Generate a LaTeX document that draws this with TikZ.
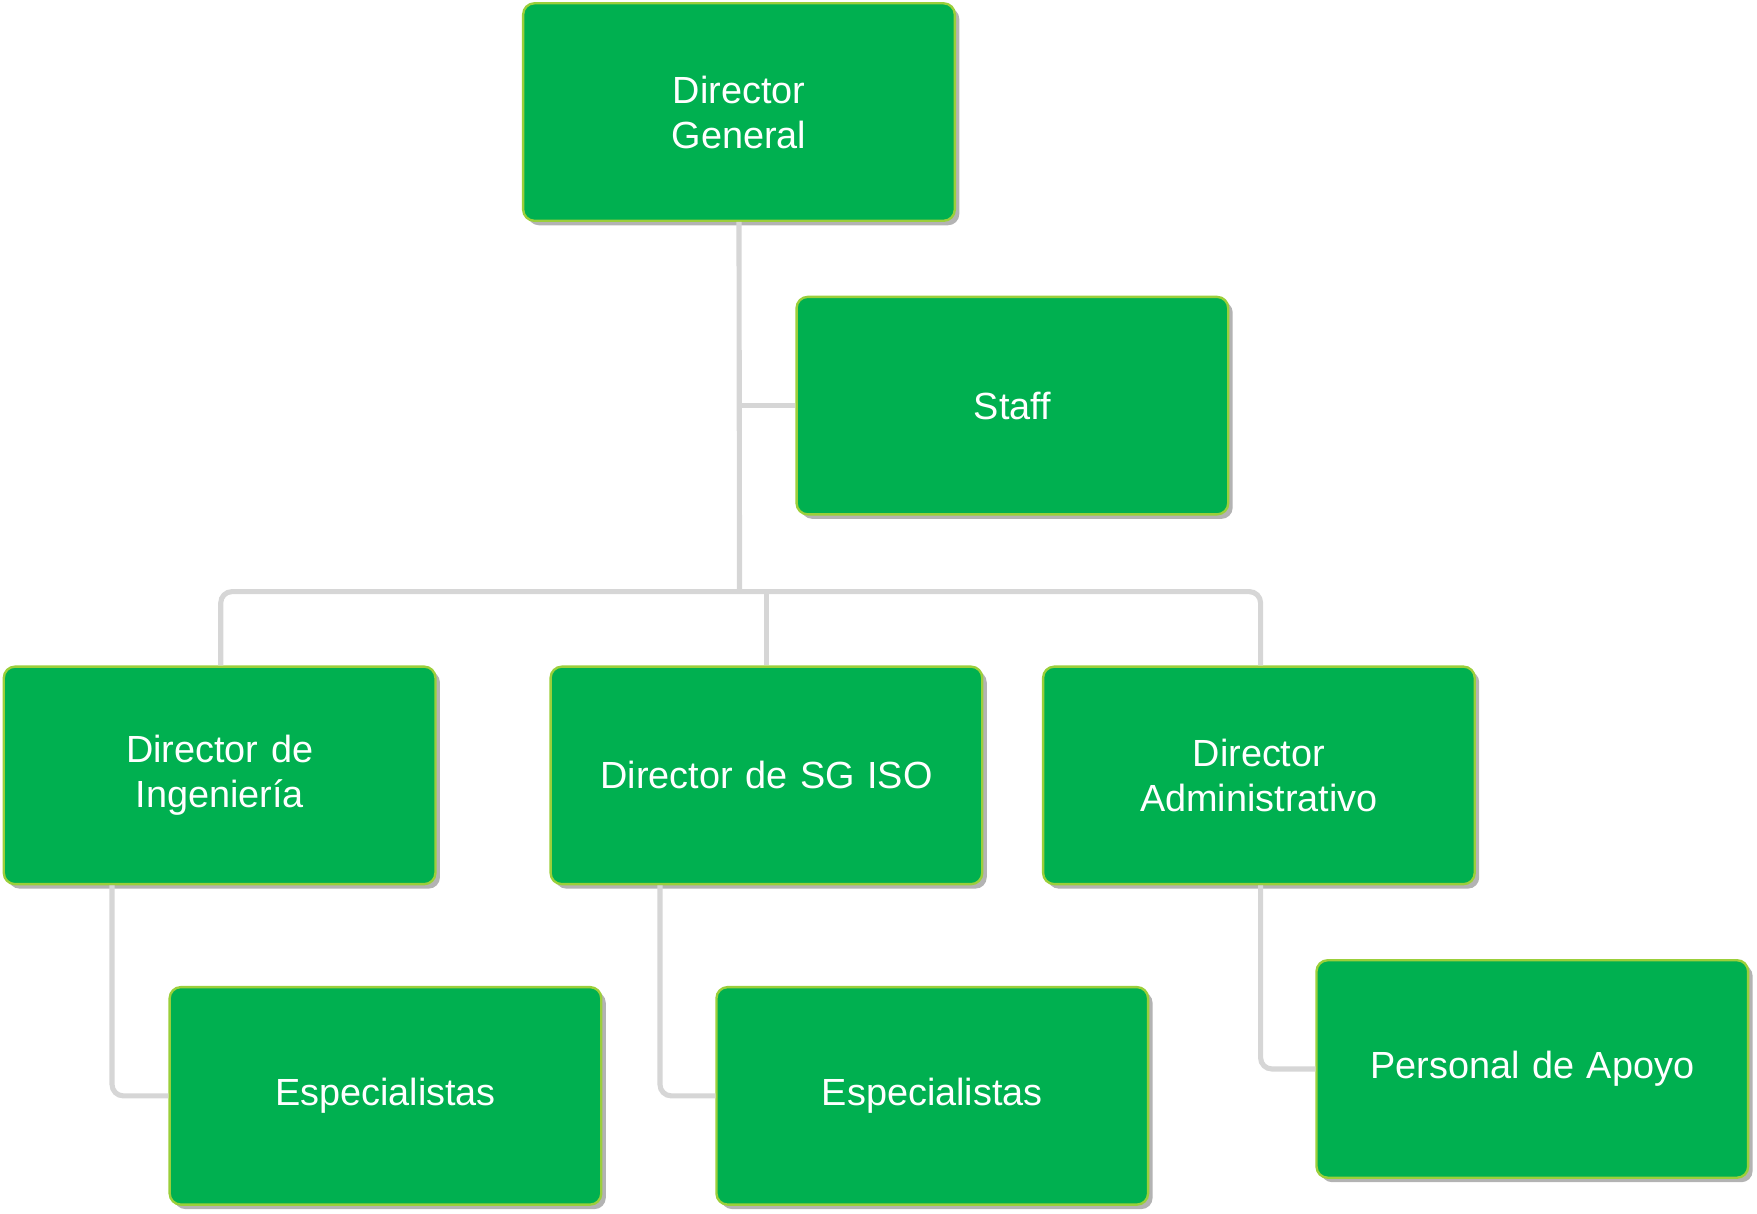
\documentclass[tikz,border=0pt]{standalone}
\usepackage{fontspec}
\setmainfont{Liberation Sans}
\usetikzlibrary{shadows}
\definecolor{boxgreen}{HTML}{00B050}
\definecolor{boxrim}{HTML}{9BCF3A}
\definecolor{linegray}{HTML}{D6D6D6}
\begin{document}
\begin{tikzpicture}[x=0.01cm,y=-0.01cm]

% definitions
\tikzstyle{box} = [rectangle, rounded corners=0.1cm, minimum width=3.85cm, minimum height=1.94cm, text width=3.6cm, align=center, draw=boxrim, line width=0.6pt, fill=boxgreen, text=white, font=\fontsize{9.6}{11.4}\selectfont, drop shadow={shadow xshift=0.04cm, shadow yshift=-0.04cm, opacity=0.6}]
\tikzstyle{line} = [draw=linegray, line width=1.3pt, rounded corners=0.1cm]

\useasboundingbox (0,0) rectangle (1568,1083);

% the graph
\node (dg) [box] at (659.5,100) {Director\\General};
\node (staff) [box] at (903.5,362) {Staff};
\node (ing) [box] at (196,692) {Director de\\Ingeniería};
\node (iso) [box] at (684,692) {Director de SG ISO};
\node (adm) [box] at (1123.5,692) {Director\\Administrativo};
\node (esp1) [box] at (344,978) {Especialistas};
\node (esp2) [box] at (832,978) {Especialistas};
\node (apoyo) [box] at (1367.5,954) {Personal de Apoyo};

\coordinate (bus) at (660,528);

\begin{scope}[on background layer/.style={}]
\draw [line] (dg.south) -- (bus);
\draw [line] (660,362) -- (staff.west);
\draw [line] (ing.north -| 197,0) -- (197,528) -- (1125,528) -- (adm.north -| 1125,0);
\draw [line] (684,528) -- (iso.north);
\draw [line] (ing.south -| 100,0) |- (esp1.west);
\draw [line] (iso.south -| 589,0) |- (esp2.west);
\draw [line] (adm.south -| 1125,0) |- (apoyo.west);
\end{scope}

\end{tikzpicture}
\end{document}
